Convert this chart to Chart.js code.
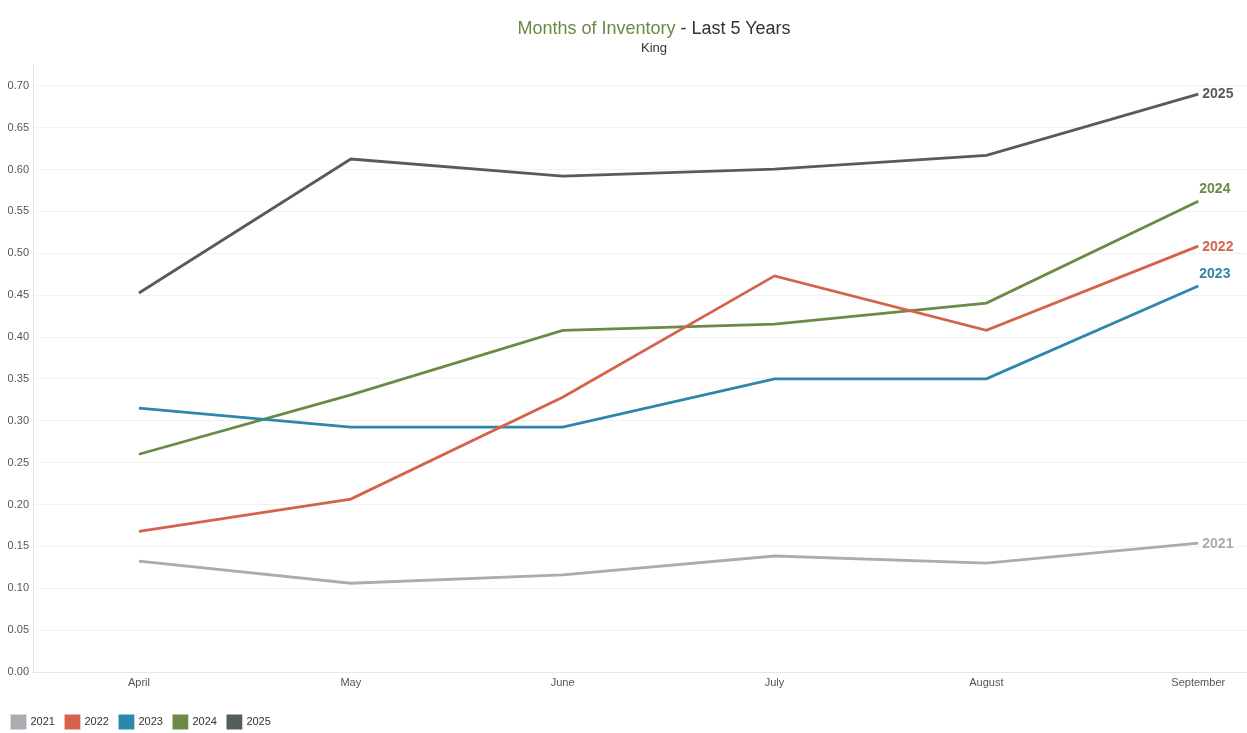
<!DOCTYPE html>
<html>
<head>
<meta charset="utf-8">
<script src="https://cdn.jsdelivr.net/npm/chart.js@4"></script>
<style>
  body { margin: 0; background: #fff; font-family: Arial, "Liberation Sans", sans-serif; }
  #wrap { position: relative; width: 1247px; height: 733px; }
  #head { position: absolute; top: 17px; left: 61px; width: 1186px; text-align: center; color: #333; }
  #head .t { font-size: 18px; line-height: 22px; }
  #head .t span { color: #6a8a45; }
  #head .s { font-size: 13px; line-height: 17px; }
</style>
</head>
<body>
<div id="wrap">
  <canvas id="chart" width="1247" height="733"></canvas>
  <div id="head">
    <div class="t"><span>Months of Inventory</span> - Last 5 Years</div>
    <div class="s">King</div>
  </div>
</div>
<script>
// months on the x axis
const months = ["April", "May", "June", "July", "August", "September"];

// months of inventory per year
const y2021 = [0.1325, 0.106, 0.116, 0.1385, 0.130, 0.154];
const y2022 = [0.168, 0.2065, 0.328, 0.473, 0.408, 0.5085];
const y2023 = [0.315, 0.2925, 0.2925, 0.350, 0.350, 0.461];
const y2024 = [0.260, 0.331, 0.408, 0.4155, 0.4405, 0.562];
const y2025 = [0.4525, 0.6125, 0.592, 0.6005, 0.617, 0.690];

const years = ["2021", "2022", "2023", "2024", "2025"];
const series = [y2021, y2022, y2023, y2024, y2025];
const colors = ["#a9adb3", "#d5634b", "#2e86ab", "#6a8a45", "#555d5c"];

// nudges for the year label at the end of each line [dx, dy]
const labelNudge = [[4, 1], [4, 1], [1, -12], [1, -12], [4, 0]];

const endLabels = {
    id: "endLabels",
    afterDatasetsDraw(chart) {
        const ctx = chart.ctx;
        ctx.save();
        ctx.font = "bold 14px Arial, 'Liberation Sans', sans-serif";
        ctx.textBaseline = "middle";
        ctx.textAlign = "left";
        chart.data.datasets.forEach((ds, i) => {
            const pts = chart.getDatasetMeta(i).data;
            const p = pts[pts.length - 1];
            ctx.fillStyle = ds.borderColor;
            ctx.fillText(ds.label, p.x + labelNudge[i][0], p.y + labelNudge[i][1]);
        });
        ctx.restore();
    }
};

const font = { family: "Arial, 'Liberation Sans', sans-serif", size: 11 };

new Chart(document.getElementById("chart"), {
    type: "line",
    data: {
        datasets: years.map((yr, i) => ({
            label: yr,
            data: series[i].map((v, j) => ({ x: j, y: v })),
            borderColor: colors[i],
            backgroundColor: colors[i],
            borderWidth: 2.8,
            pointRadius: 0,
            tension: 0,
        })),
    },
    options: {
        responsive: false,
        animation: false,
        layout: { padding: { top: 64, left: 1, right: 0, bottom: -5 } },
        plugins: {
            legend: {
                position: "bottom",
                align: "start",
                labels: { boxWidth: 13, boxHeight: 12, color: "#333", font: font, padding: 11 },
            },
            tooltip: { enabled: false },
        },
        scales: {
            x: {
                type: "linear",
                min: -0.5,
                max: 5.23,
                afterFit: s => { s.height = 33; },
                grid: { display: false, drawTicks: false },
                border: { display: true, color: "#e6e6e6" },
                ticks: {
                    stepSize: 1,
                    includeBounds: false,
                    color: "#555",
                    font: font,
                    padding: 4,
                    callback: v => months[v] ?? "",
                },
            },
            y: {
                min: 0,
                max: 0.726,
                afterFit: s => { s.width = 32; },
                grid: { color: "#f2f2f2", drawTicks: false },
                border: { display: true, color: "#e6e6e6" },
                ticks: {
                    stepSize: 0.05,
                    includeBounds: false,
                    color: "#555",
                    font: font,
                    padding: 4,
                    callback: v => v.toFixed(2),
                },
            },
        },
    },
    plugins: [endLabels],
});
</script>
</body>
</html>
